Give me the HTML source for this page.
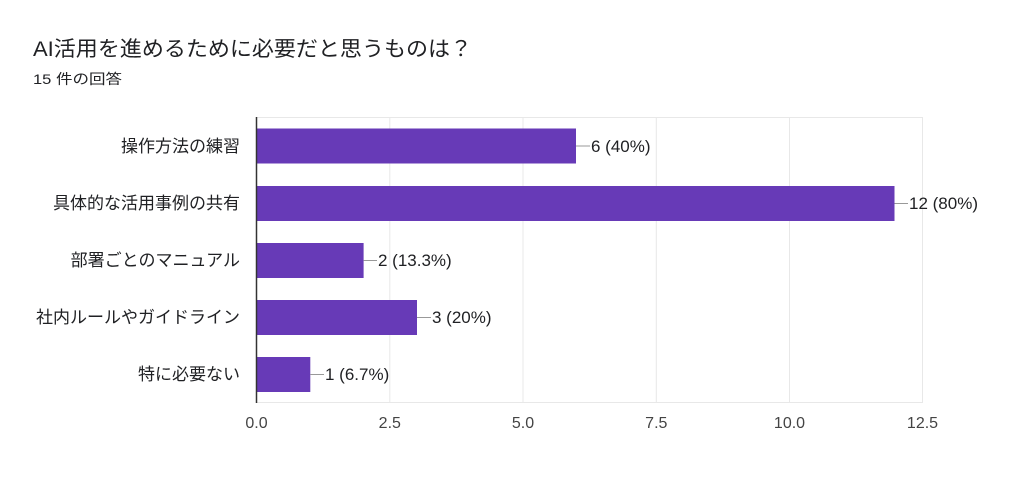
<!DOCTYPE html>
<html><head><meta charset="utf-8"><style>
body{margin:0;background:#fff;}
svg{display:block;font-family:"Liberation Sans","Noto Sans CJK JP",sans-serif;}
</style></head><body>
<svg width="1024" height="487" viewBox="0 0 1024 487">
<rect width="1024" height="487" fill="#fff"/>
<text x="33" y="56" font-size="21" fill="#202124" textLength="439" lengthAdjust="spacingAndGlyphs">AI活用を進めるために必要だと思うものは？</text>
<text x="33" y="84" font-size="14" fill="#202124" textLength="89" lengthAdjust="spacingAndGlyphs">15 件の回答</text>
<g stroke="#e8e8e8" stroke-width="1">
<line x1="256.5" y1="117.5" x2="922" y2="117.5"/>
<line x1="389.8" y1="117" x2="389.8" y2="403"/>
<line x1="523" y1="117" x2="523" y2="403"/>
<line x1="656.3" y1="117" x2="656.3" y2="403"/>
<line x1="789.5" y1="117" x2="789.5" y2="403"/>
<line x1="922.5" y1="117" x2="922.5" y2="403"/>
<line x1="256.5" y1="402.5" x2="922" y2="402.5"/>
</g>
<g fill="#673ab7">
<rect x="257" y="128.5" width="319" height="35"/>
<rect x="257" y="186" width="637.5" height="35"/>
<rect x="257" y="243" width="106.6" height="35"/>
<rect x="257" y="300" width="160" height="35"/>
<rect x="257" y="357" width="53.3" height="35"/>
</g>
<line x1="256.5" y1="117" x2="256.5" y2="403" stroke="#333" stroke-width="1.5"/>
<g stroke="#999" stroke-width="1">
<line x1="576" y1="146" x2="590" y2="146"/>
<line x1="894.5" y1="203.5" x2="908" y2="203.5"/>
<line x1="363.6" y1="260.5" x2="377" y2="260.5"/>
<line x1="417" y1="317.5" x2="431" y2="317.5"/>
<line x1="310.3" y1="374.5" x2="324" y2="374.5"/>
</g>
<g font-size="17" fill="#202124">
<text x="591" y="152">6 (40%)</text>
<text x="909" y="209">12 (80%)</text>
<text x="378" y="266">2 (13.3%)</text>
<text x="432" y="323">3 (20%)</text>
<text x="325" y="380">1 (6.7%)</text>
</g>
<g font-size="17" fill="#202124" text-anchor="end">
<text x="240" y="152">操作方法の練習</text>
<text x="240" y="209">具体的な活用事例の共有</text>
<text x="240" y="266">部署ごとのマニュアル</text>
<text x="240" y="323">社内ルールやガイドライン</text>
<text x="240" y="380">特に必要ない</text>
</g>
<g font-size="16" fill="#444" text-anchor="middle">
<text x="256.5" y="428">0.0</text>
<text x="389.8" y="428">2.5</text>
<text x="523" y="428">5.0</text>
<text x="656.3" y="428">7.5</text>
<text x="789.5" y="428">10.0</text>
<text x="922.5" y="428">12.5</text>
</g>
</svg>
</body></html>
